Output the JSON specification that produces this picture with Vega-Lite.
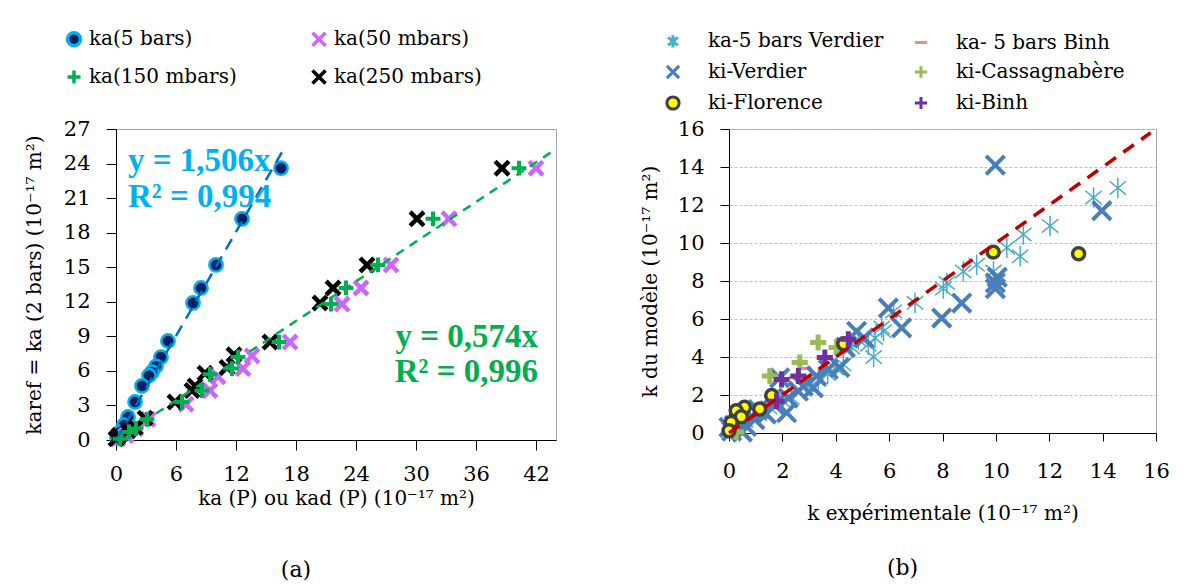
{
  "$schema": "https://vega.github.io/schema/vega-lite/v6.json",
  "background": "white",
  "padding": {"left": 23, "top": 28, "right": 5, "bottom": 5},
  "spacing": 82,
  "config": {
    "view": {"stroke": "#A6A6A6", "strokeWidth": 1},
    "axis": {"domainColor": "#000000", "tickColor": "#000000", "labelColor": "#000000", "titleColor": "#000000", "labelFont": "DejaVu Serif", "titleFont": "DejaVu Serif", "labelFontSize": 21, "titleFontSize": 20, "titleFontWeight": "normal", "grid": false, "labelFlush": false, "labelOverlap": false},
    "legend": {"labelFont": "DejaVu Serif", "labelFontSize": 20, "labelColor": "#000000", "padding": 0, "labelLimit": 400}
  },
  "datasets": {
    "a": [
      {"series": "ka(5 bars)", "x": 16.5, "y": 23.6}, {"series": "ka(5 bars)", "x": 12.6, "y": 19.2}, {"series": "ka(5 bars)", "x": 10.0, "y": 15.2}, {"series": "ka(5 bars)", "x": 8.5, "y": 13.2}, {"series": "ka(5 bars)", "x": 7.7, "y": 11.9}, {"series": "ka(5 bars)", "x": 5.2, "y": 8.6}, {"series": "ka(5 bars)", "x": 4.5, "y": 7.2}, {"series": "ka(5 bars)", "x": 4.0, "y": 6.4}, {"series": "ka(5 bars)", "x": 3.6, "y": 5.9}, {"series": "ka(5 bars)", "x": 3.3, "y": 5.6}, {"series": "ka(5 bars)", "x": 2.6, "y": 4.7}, {"series": "ka(5 bars)", "x": 1.9, "y": 3.3}, {"series": "ka(5 bars)", "x": 1.2, "y": 2.0}, {"series": "ka(5 bars)", "x": 0.8, "y": 1.3}, {"series": "ka(5 bars)", "x": 0.4, "y": 0.7}, {"series": "ka(5 bars)", "x": 0.1, "y": 0.2},
      {"series": "ka(50 mbars)", "x": 42.0, "y": 23.6}, {"series": "ka(50 mbars)", "x": 33.3, "y": 19.2}, {"series": "ka(50 mbars)", "x": 27.5, "y": 15.2}, {"series": "ka(50 mbars)", "x": 24.5, "y": 13.2}, {"series": "ka(50 mbars)", "x": 22.6, "y": 11.8}, {"series": "ka(50 mbars)", "x": 17.4, "y": 8.5}, {"series": "ka(50 mbars)", "x": 13.6, "y": 7.3}, {"series": "ka(50 mbars)", "x": 12.7, "y": 6.2}, {"series": "ka(50 mbars)", "x": 10.2, "y": 5.5}, {"series": "ka(50 mbars)", "x": 9.4, "y": 4.3}, {"series": "ka(50 mbars)", "x": 7.0, "y": 3.1}, {"series": "ka(50 mbars)", "x": 3.2, "y": 1.8}, {"series": "ka(50 mbars)", "x": 2.0, "y": 1.0}, {"series": "ka(50 mbars)", "x": 1.0, "y": 0.4}, {"series": "ka(50 mbars)", "x": 0.2, "y": 0.1},
      {"series": "ka(250 mbars)", "x": 38.6, "y": 23.6}, {"series": "ka(250 mbars)", "x": 30.1, "y": 19.2}, {"series": "ka(250 mbars)", "x": 25.1, "y": 15.2}, {"series": "ka(250 mbars)", "x": 21.7, "y": 13.2}, {"series": "ka(250 mbars)", "x": 20.4, "y": 11.9}, {"series": "ka(250 mbars)", "x": 15.4, "y": 8.5}, {"series": "ka(250 mbars)", "x": 11.8, "y": 7.4}, {"series": "ka(250 mbars)", "x": 11.1, "y": 6.3}, {"series": "ka(250 mbars)", "x": 8.9, "y": 5.8}, {"series": "ka(250 mbars)", "x": 7.9, "y": 4.7}, {"series": "ka(250 mbars)", "x": 7.6, "y": 4.3}, {"series": "ka(250 mbars)", "x": 5.9, "y": 3.3}, {"series": "ka(250 mbars)", "x": 2.9, "y": 1.9}, {"series": "ka(250 mbars)", "x": 1.9, "y": 1.1}, {"series": "ka(250 mbars)", "x": 1.2, "y": 0.8}, {"series": "ka(250 mbars)", "x": 0.3, "y": 0.4}, {"series": "ka(250 mbars)", "x": 0.0, "y": 0.1},
      {"series": "ka(150 mbars)", "x": 40.3, "y": 23.6}, {"series": "ka(150 mbars)", "x": 31.7, "y": 19.2}, {"series": "ka(150 mbars)", "x": 26.2, "y": 15.2}, {"series": "ka(150 mbars)", "x": 23.0, "y": 13.2}, {"series": "ka(150 mbars)", "x": 21.5, "y": 11.8}, {"series": "ka(150 mbars)", "x": 16.3, "y": 8.5}, {"series": "ka(150 mbars)", "x": 12.2, "y": 7.2}, {"series": "ka(150 mbars)", "x": 11.6, "y": 6.2}, {"series": "ka(150 mbars)", "x": 9.4, "y": 5.7}, {"series": "ka(150 mbars)", "x": 8.6, "y": 4.3}, {"series": "ka(150 mbars)", "x": 6.6, "y": 3.3}, {"series": "ka(150 mbars)", "x": 3.1, "y": 1.8}, {"series": "ka(150 mbars)", "x": 2.0, "y": 1.0}, {"series": "ka(150 mbars)", "x": 1.3, "y": 0.7}, {"series": "ka(150 mbars)", "x": 0.4, "y": 0.1}
    ],
    "aFit": [
      {"fit": "5 bars", "x": 0, "y": 0}, {"fit": "5 bars", "x": 16.9, "y": 25.45},
      {"fit": "mbars", "x": 0, "y": 0}, {"fit": "mbars", "x": 43.5, "y": 24.97}
    ],
    "aText": [
      {"fit": "5 bars", "label": "y = 1,506x", "x": 1.2, "y": 24.26},
      {"fit": "5 bars", "label": "R² = 0,994", "x": 1.2, "y": 21.13},
      {"fit": "mbars", "label": "y = 0,574x", "x": 42.2, "y": 8.96},
      {"fit": "mbars", "label": "R² = 0,996", "x": 42.2, "y": 5.91}
    ],
    "b": [
      {"series": "ka-5 bars Verdier", "x": 14.57, "y": 12.9}, {"series": "ka-5 bars Verdier", "x": 13.66, "y": 12.4}, {"series": "ka-5 bars Verdier", "x": 12.03, "y": 10.9}, {"series": "ka-5 bars Verdier", "x": 11.03, "y": 10.45}, {"series": "ka-5 bars Verdier", "x": 10.41, "y": 9.75}, {"series": "ka-5 bars Verdier", "x": 10.91, "y": 9.3}, {"series": "ka-5 bars Verdier", "x": 9.91, "y": 8.5}, {"series": "ka-5 bars Verdier", "x": 9.28, "y": 8.85}, {"series": "ka-5 bars Verdier", "x": 8.78, "y": 8.5}, {"series": "ka-5 bars Verdier", "x": 8.16, "y": 7.9}, {"series": "ka-5 bars Verdier", "x": 8.03, "y": 7.6}, {"series": "ka-5 bars Verdier", "x": 6.97, "y": 6.85}, {"series": "ka-5 bars Verdier", "x": 6.17, "y": 6.4}, {"series": "ka-5 bars Verdier", "x": 5.79, "y": 5.35}, {"series": "ka-5 bars Verdier", "x": 5.72, "y": 5.55}, {"series": "ka-5 bars Verdier", "x": 5.47, "y": 5.0}, {"series": "ka-5 bars Verdier", "x": 5.22, "y": 4.65}, {"series": "ka-5 bars Verdier", "x": 5.42, "y": 4.0}, {"series": "ka-5 bars Verdier", "x": 4.85, "y": 4.9}, {"series": "ka-5 bars Verdier", "x": 4.6, "y": 4.5}, {"series": "ka-5 bars Verdier", "x": 4.28, "y": 3.6}, {"series": "ka-5 bars Verdier", "x": 4.0, "y": 3.4}, {"series": "ka-5 bars Verdier", "x": 3.7, "y": 3.1}, {"series": "ka-5 bars Verdier", "x": 3.35, "y": 2.8}, {"series": "ka-5 bars Verdier", "x": 2.9, "y": 2.5}, {"series": "ka-5 bars Verdier", "x": 2.34, "y": 1.85}, {"series": "ka-5 bars Verdier", "x": 2.0, "y": 1.7}, {"series": "ka-5 bars Verdier", "x": 1.5, "y": 1.35}, {"series": "ka-5 bars Verdier", "x": 1.1, "y": 1.0}, {"series": "ka-5 bars Verdier", "x": 0.6, "y": 0.65}, {"series": "ka-5 bars Verdier", "x": 0.3, "y": 0.35},
      {"series": "ka- 5 bars Binh", "x": 4.9, "y": 4.85}, {"series": "ka- 5 bars Binh", "x": 4.1, "y": 4.2}, {"series": "ka- 5 bars Binh", "x": 2.9, "y": 3.4}, {"series": "ka- 5 bars Binh", "x": 2.43, "y": 2.92}, {"series": "ka- 5 bars Binh", "x": 1.8, "y": 2.1},
      {"series": "ki-Verdier", "x": 9.98, "y": 14.1}, {"series": "ki-Verdier", "x": 13.97, "y": 11.7}, {"series": "ki-Verdier", "x": 10.05, "y": 8.2}, {"series": "ki-Verdier", "x": 9.98, "y": 7.9}, {"series": "ki-Verdier", "x": 9.98, "y": 7.6}, {"series": "ki-Verdier", "x": 8.72, "y": 6.84}, {"series": "ki-Verdier", "x": 7.97, "y": 6.05}, {"series": "ki-Verdier", "x": 5.97, "y": 6.58}, {"series": "ki-Verdier", "x": 6.47, "y": 5.53}, {"series": "ki-Verdier", "x": 5.06, "y": 5.0}, {"series": "ki-Verdier", "x": 4.78, "y": 5.35}, {"series": "ki-Verdier", "x": 4.36, "y": 4.5}, {"series": "ki-Verdier", "x": 4.15, "y": 3.45}, {"series": "ki-Verdier", "x": 3.72, "y": 3.35}, {"series": "ki-Verdier", "x": 3.28, "y": 3.0}, {"series": "ki-Verdier", "x": 3.16, "y": 2.38}, {"series": "ki-Verdier", "x": 2.78, "y": 2.46}, {"series": "ki-Verdier", "x": 2.6, "y": 2.2}, {"series": "ki-Verdier", "x": 2.22, "y": 1.84}, {"series": "ki-Verdier", "x": 2.16, "y": 1.07}, {"series": "ki-Verdier", "x": 1.9, "y": 2.9}, {"series": "ki-Verdier", "x": 1.7, "y": 1.5}, {"series": "ki-Verdier", "x": 1.4, "y": 1.0}, {"series": "ki-Verdier", "x": 1.09, "y": 1.23}, {"series": "ki-Verdier", "x": 0.97, "y": 0.7}, {"series": "ki-Verdier", "x": 0.66, "y": 0.35}, {"series": "ki-Verdier", "x": 0.4, "y": 0.2}, {"series": "ki-Verdier", "x": 0.2, "y": 0.4}, {"series": "ki-Verdier", "x": 0.1, "y": 0.1}, {"series": "ki-Verdier", "x": 0.5, "y": 0.05}, {"series": "ki-Verdier", "x": 0.0, "y": 0.3},
      {"series": "ki-Cassagnabère", "x": 3.34, "y": 4.76}, {"series": "ki-Cassagnabère", "x": 2.65, "y": 3.71}, {"series": "ki-Cassagnabère", "x": 1.53, "y": 3.0}, {"series": "ki-Cassagnabère", "x": 4.03, "y": 4.5}, {"series": "ki-Cassagnabère", "x": 0.27, "y": 0.05},
      {"series": "ki-Florence", "x": 13.1, "y": 9.43}, {"series": "ki-Florence", "x": 9.9, "y": 9.52}, {"series": "ki-Florence", "x": 4.3, "y": 4.7}, {"series": "ki-Florence", "x": 1.6, "y": 1.97}, {"series": "ki-Florence", "x": 1.15, "y": 1.26}, {"series": "ki-Florence", "x": 0.58, "y": 1.35}, {"series": "ki-Florence", "x": 0.27, "y": 1.17}, {"series": "ki-Florence", "x": 0.46, "y": 0.86}, {"series": "ki-Florence", "x": 0.08, "y": 0.56}, {"series": "ki-Florence", "x": 0.0, "y": 0.12},
      {"series": "ki-Binh", "x": 4.47, "y": 4.93}, {"series": "ki-Binh", "x": 3.59, "y": 3.97}, {"series": "ki-Binh", "x": 2.6, "y": 3.0}, {"series": "ki-Binh", "x": 1.97, "y": 2.82}, {"series": "ki-Binh", "x": 1.78, "y": 1.67}
    ],
    "bFit": [{"x": 0, "y": 0}, {"x": 15.8, "y": 15.8}]
  },
  "hconcat": [
    {
      "width": 440,
      "height": 311,
      "title": {"text": "(a)", "orient": "bottom", "anchor": "middle", "offset": 52, "dx": -40, "font": "DejaVu Serif", "fontSize": 22, "fontWeight": "normal", "color": "#000000"},
      "encoding": {
        "x": {"field": "x", "type": "quantitative", "scale": {"domain": [0, 44], "nice": false, "zero": false}, "axis": {"values": [0, 6, 12, 18, 24, 30, 36, 42], "title": "ka (P) ou kad (P) (10⁻¹⁷ m²)", "labelFont": "DejaVu Serif", "titleFont": "DejaVu Serif", "labelFontSize": 21, "titleFontSize": 20, "titleFontWeight": "normal", "tickSize": 10, "labelPadding": 13, "titlePadding": 4}},
        "y": {"field": "y", "type": "quantitative", "scale": {"domain": [0, 27], "nice": false, "zero": false}, "axis": {"values": [0, 3, 6, 9, 12, 15, 18, 21, 24, 27], "title": "karef = ka (2 bars) (10⁻¹⁷ m²)", "labelFont": "DejaVu Serif", "titleFont": "DejaVu Serif", "labelFontSize": 21, "titleFontSize": 20, "titleFontWeight": "normal", "tickSize": 10, "labelPadding": 16, "titlePadding": 19}}
      },
      "layer": [
        {"data": {"name": "a"}, "transform": [{"filter": "datum.series === 'ka(5 bars)'"}], "mark": {"type": "point", "filled": true, "opacity": 1, "size": 175, "strokeWidth": 2.5},
         "encoding": {
           "shape": {"field": "series", "type": "nominal", "scale": {"domain": ["ka(5 bars)", "ka(150 mbars)", "ka(50 mbars)", "ka(250 mbars)"], "range": ["circle", "M-1,0L1,0M0,-1L0,1", "M-1,-1L1,1M-1,1L1,-1", "M-1,-1L1,1M-1,1L1,-1"]}, "legend": {"title": null, "orient": "none", "legendX": -52, "legendY": -100, "columns": 2, "columnPadding": 68, "rowPadding": 10, "labelOffset": 5, "symbolSize": 170, "symbolStrokeWidth": 3.5, "labelFont": "DejaVu Serif", "labelFontSize": 20}},
           "fill": {"field": "series", "type": "nominal", "scale": {"domain": ["ka(5 bars)", "ka(150 mbars)", "ka(50 mbars)", "ka(250 mbars)"], "range": ["#002060", "#00B050", "#CC66FF", "#000000"]}, "legend": {"title": null, "orient": "none", "legendX": -52, "legendY": -100, "columns": 2, "columnPadding": 68, "rowPadding": 10, "labelOffset": 5, "symbolSize": 170, "symbolStrokeWidth": 3.5, "labelFont": "DejaVu Serif", "labelFontSize": 20}},
           "stroke": {"field": "series", "type": "nominal", "scale": {"domain": ["ka(5 bars)", "ka(150 mbars)", "ka(50 mbars)", "ka(250 mbars)"], "range": ["#00B0F0", "#00B050", "#CC66FF", "#000000"]}, "legend": {"title": null, "orient": "none", "legendX": -52, "legendY": -100, "columns": 2, "columnPadding": 68, "rowPadding": 10, "labelOffset": 5, "symbolSize": 170, "symbolStrokeWidth": 3.5, "labelFont": "DejaVu Serif", "labelFontSize": 20}}
         }},
        {"data": {"name": "a"}, "transform": [{"filter": "datum.series === 'ka(50 mbars)'"}], "mark": {"type": "point", "filled": true, "opacity": 1, "size": 190, "strokeWidth": 4.5},
         "encoding": {"shape": {"field": "series", "type": "nominal"}, "fill": {"field": "series", "type": "nominal"}, "stroke": {"field": "series", "type": "nominal"}}},
        {"data": {"name": "a"}, "transform": [{"filter": "datum.series === 'ka(250 mbars)'"}], "mark": {"type": "point", "filled": true, "opacity": 1, "size": 190, "strokeWidth": 4.5},
         "encoding": {"shape": {"field": "series", "type": "nominal"}, "fill": {"field": "series", "type": "nominal"}, "stroke": {"field": "series", "type": "nominal"}}},
        {"data": {"name": "a"}, "transform": [{"filter": "datum.series === 'ka(150 mbars)'"}], "mark": {"type": "point", "filled": true, "opacity": 1, "size": 220, "strokeWidth": 4},
         "encoding": {"shape": {"field": "series", "type": "nominal"}, "fill": {"field": "series", "type": "nominal"}, "stroke": {"field": "series", "type": "nominal"}}},
        {"data": {"name": "aFit"}, "transform": [{"filter": "datum.fit === '5 bars'"}], "mark": {"type": "line", "stroke": "#0070C0", "strokeWidth": 2.5, "strokeDash": [12, 8]}, "encoding": {}},
        {"data": {"name": "aFit"}, "transform": [{"filter": "datum.fit === 'mbars'"}], "mark": {"type": "line", "stroke": "#00B050", "strokeWidth": 2.5, "strokeDash": [9, 7]}, "encoding": {}},
        {"data": {"name": "aText"}, "transform": [{"filter": "datum.fit === '5 bars'"}], "mark": {"type": "text", "align": "left", "baseline": "middle", "font": "Liberation Serif", "fontSize": 33, "fontWeight": "bold", "color": "#00B0F0"}, "encoding": {"text": {"field": "label"}}},
        {"data": {"name": "aText"}, "transform": [{"filter": "datum.fit === 'mbars'"}], "mark": {"type": "text", "align": "right", "baseline": "middle", "font": "Liberation Serif", "fontSize": 33, "fontWeight": "bold", "color": "#00B050"}, "encoding": {"text": {"field": "label"}}}
      ]
    },
    {
      "width": 427,
      "height": 304,
      "title": {"text": "(b)", "orient": "bottom", "anchor": "middle", "offset": 35, "dx": -40, "font": "DejaVu Serif", "fontSize": 22, "fontWeight": "normal", "color": "#000000"},
      "encoding": {
        "x": {"field": "x", "type": "quantitative", "scale": {"domain": [0, 16], "nice": false, "zero": false}, "axis": {"values": [0, 2, 4, 6, 8, 10, 12, 14, 16], "title": "k expérimentale (10⁻¹⁷ m²)", "labelFont": "DejaVu Serif", "titleFont": "DejaVu Serif", "labelFontSize": 21, "titleFontSize": 20, "titleFontWeight": "normal", "tickSize": 8, "labelPadding": 19, "titlePadding": 22}},
        "y": {"field": "y", "type": "quantitative", "scale": {"domain": [0, 16], "nice": false, "zero": false}, "axis": {"values": [0, 2, 4, 6, 8, 10, 12, 14, 16], "title": "k du modèle (10⁻¹⁷ m²)", "labelFont": "DejaVu Serif", "titleFont": "DejaVu Serif", "labelFontSize": 21, "titleFontSize": 20, "titleFontWeight": "normal", "tickSize": 9, "labelPadding": 16, "titlePadding": 17, "grid": true, "gridColor": "#BFBFBF", "gridDash": [3, 2], "gridWidth": 1}}
      },
      "layer": [
        {"data": {"name": "b"}, "transform": [{"filter": "datum.series === 'ka-5 bars Verdier'"}], "mark": {"type": "point", "filled": true, "opacity": 1, "size": 420, "strokeWidth": 1.5},
         "encoding": {
           "shape": {"field": "series", "type": "nominal", "scale": {"domain": ["ka-5 bars Verdier", "ki-Verdier", "ki-Florence", "ka- 5 bars Binh", "ki-Cassagnabère", "ki-Binh"], "range": ["M0,-1L0,1M-0.8,-0.65L0.8,0.65M-0.8,0.65L0.8,-0.65", "M-1,-1L1,1M-1,1L1,-1", "circle", "M-1,0L1,0", "M-1,0L1,0M0,-1L0,1", "M-1,0L1,0M0,-1L0,1"]}, "legend": {"title": null, "orient": "none", "legendX": -66, "legendY": -98, "columns": 2, "columnPadding": 24, "rowPadding": 5, "labelOffset": 25, "symbolSize": 150, "symbolStrokeWidth": 3, "labelFont": "DejaVu Serif", "labelFontSize": 20}},
           "fill": {"field": "series", "type": "nominal", "scale": {"domain": ["ka-5 bars Verdier", "ki-Verdier", "ki-Florence", "ka- 5 bars Binh", "ki-Cassagnabère", "ki-Binh"], "range": ["#4BACC6", "#4A7EBB", "#FFFF00", "#D99694", "#9BBB59", "#7030A0"]}, "legend": {"title": null, "orient": "none", "legendX": -66, "legendY": -98, "columns": 2, "columnPadding": 24, "rowPadding": 5, "labelOffset": 25, "symbolSize": 150, "symbolStrokeWidth": 3, "labelFont": "DejaVu Serif", "labelFontSize": 20}},
           "stroke": {"field": "series", "type": "nominal", "scale": {"domain": ["ka-5 bars Verdier", "ki-Verdier", "ki-Florence", "ka- 5 bars Binh", "ki-Cassagnabère", "ki-Binh"], "range": ["#4BACC6", "#4A7EBB", "#404040", "#D99694", "#9BBB59", "#7030A0"]}, "legend": {"title": null, "orient": "none", "legendX": -66, "legendY": -98, "columns": 2, "columnPadding": 24, "rowPadding": 5, "labelOffset": 25, "symbolSize": 150, "symbolStrokeWidth": 3, "labelFont": "DejaVu Serif", "labelFontSize": 20}}
         }},
        {"data": {"name": "b"}, "transform": [{"filter": "datum.series === 'ka- 5 bars Binh'"}], "mark": {"type": "point", "filled": true, "opacity": 1, "size": 100, "strokeWidth": 3.5},
         "encoding": {"shape": {"field": "series", "type": "nominal"}, "fill": {"field": "series", "type": "nominal"}, "stroke": {"field": "series", "type": "nominal"}}},
        {"data": {"name": "b"}, "transform": [{"filter": "datum.series === 'ki-Verdier'"}], "mark": {"type": "point", "filled": true, "opacity": 1, "size": 340, "strokeWidth": 4},
         "encoding": {"shape": {"field": "series", "type": "nominal"}, "fill": {"field": "series", "type": "nominal"}, "stroke": {"field": "series", "type": "nominal"}}},
        {"data": {"name": "b"}, "transform": [{"filter": "datum.series === 'ki-Cassagnabère'"}], "mark": {"type": "point", "filled": true, "opacity": 1, "size": 260, "strokeWidth": 5},
         "encoding": {"shape": {"field": "series", "type": "nominal"}, "fill": {"field": "series", "type": "nominal"}, "stroke": {"field": "series", "type": "nominal"}}},
        {"data": {"name": "b"}, "transform": [{"filter": "datum.series === 'ki-Florence'"}], "mark": {"type": "point", "filled": true, "opacity": 1, "size": 143, "strokeWidth": 3.5},
         "encoding": {"shape": {"field": "series", "type": "nominal"}, "fill": {"field": "series", "type": "nominal"}, "stroke": {"field": "series", "type": "nominal"}}},
        {"data": {"name": "b"}, "transform": [{"filter": "datum.series === 'ki-Binh'"}], "mark": {"type": "point", "filled": true, "opacity": 1, "size": 260, "strokeWidth": 5},
         "encoding": {"shape": {"field": "series", "type": "nominal"}, "fill": {"field": "series", "type": "nominal"}, "stroke": {"field": "series", "type": "nominal"}}},
        {"data": {"name": "bFit"}, "mark": {"type": "line", "stroke": "#C00000", "strokeWidth": 3.5, "strokeDash": [13, 9]}, "encoding": {}}
      ]
    }
  ],
  "resolve": {
    "scale": {"shape": "independent", "fill": "independent", "stroke": "independent"},
    "legend": {"shape": "independent", "fill": "independent", "stroke": "independent"}
  }
}
